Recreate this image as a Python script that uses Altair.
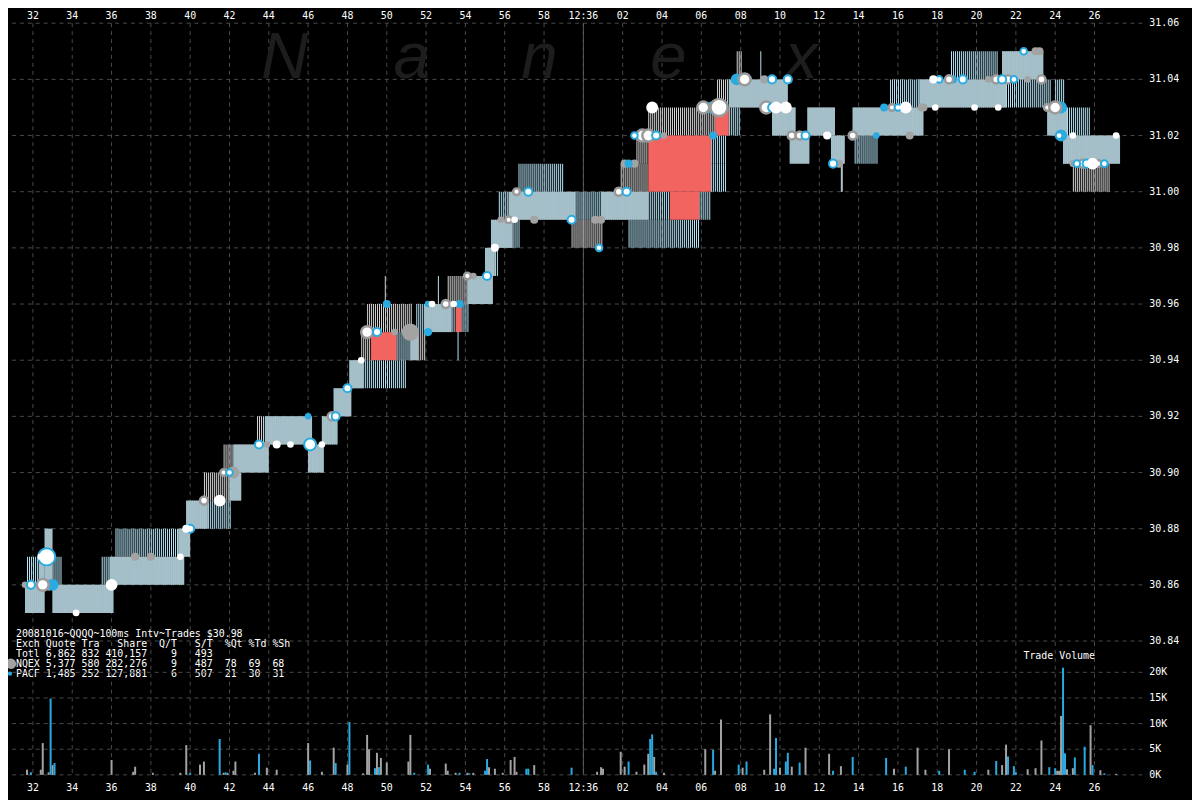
import altair as alt
import pandas as pd

# ---------------- data (seconds after 12:35:00, prices in $) ----------------
second_ticks = list(range(32, 88, 2))
price_ticks = [30.84, 30.86, 30.88, 30.90, 30.92, 30.94, 30.96, 30.98, 31.00, 31.02, 31.04, 31.06]
volume_ticks = [0, 5000, 10000, 15000, 20000]
volume_tick_labels = ["0K", "5K", "10K", "15K", "20K"]

# quote bands: (start s, end s, low $, high $)
solid_bands = [
    (31.6, 32.6, 30.85, 30.86), (32.3, 32.6, 30.86, 30.87), (32.6, 33.0, 30.86, 30.88),
    (33.0, 36.1, 30.85, 30.86), (35.9, 39.7, 30.86, 30.87), (39.4, 40.0, 30.87, 30.88),
    (39.8, 40.9, 30.88, 30.89), (42.0, 42.6, 30.89, 30.90), (42.2, 44.0, 30.90, 30.91),
    (43.8, 46.2, 30.91, 30.92), (46.0, 46.8, 30.90, 30.91), (46.7, 47.5, 30.91, 30.92),
    (47.3, 48.2, 30.92, 30.93), (48.1, 48.8, 30.93, 30.94), (51.2, 51.6, 30.94, 30.95),
    (51.9, 53.3, 30.95, 30.96), (54.1, 55.4, 30.96, 30.97), (55.0, 55.5, 30.97, 30.98),
    (55.3, 56.4, 30.98, 30.99), (56.2, 59.6, 30.99, 31.00), (60.9, 63.3, 30.99, 31.00),
    (67.4, 70.4, 31.03, 31.04), (69.6, 70.8, 31.02, 31.03), (70.5, 71.5, 31.01, 31.02),
    (71.4, 72.8, 31.02, 31.03), (72.6, 73.3, 31.01, 31.02), (73.1, 73.2, 31.00, 31.01),
    (73.7, 77.3, 31.02, 31.03), (77.1, 81.5, 31.03, 31.04), (81.3, 83.4, 31.04, 31.05),
    (83.6, 84.6, 31.02, 31.03), (84.4, 87.3, 31.01, 31.02),
]
gray_hatch_bands = [
    (40.7, 42.0, 30.89, 30.90), (41.7, 42.2, 30.90, 30.91), (43.4, 43.8, 30.91, 30.92),
    (48.7, 49.2, 30.94, 30.95), (51.6, 52.0, 30.94, 30.95), (49.0, 51.3, 30.95, 30.96),
    (49.9, 50.0, 30.96, 30.97), (53.1, 54.1, 30.96, 30.97), (59.4, 61.0, 30.98, 30.99),
    (61.9, 63.3, 31.00, 31.01), (62.7, 63.3, 31.01, 31.02), (63.3, 66.7, 31.02, 31.03),
    (66.8, 67.4, 31.03, 31.04), (67.8, 68.1, 31.04, 31.05), (84.9, 86.8, 31.00, 31.01),
]
blue_hatch_bands = [
    (31.7, 32.3, 30.86, 30.87), (33.0, 33.5, 30.86, 30.87), (35.5, 35.9, 30.86, 30.87),
    (36.2, 39.4, 30.87, 30.88), (40.9, 42.1, 30.88, 30.89), (48.8, 51.0, 30.93, 30.94),
    (50.5, 51.2, 30.94, 30.95), (51.5, 51.9, 30.95, 30.96), (53.3, 53.5, 30.95, 30.96),
    (53.8, 54.2, 30.95, 30.96), (53.6, 53.7, 30.94, 30.95), (52.6, 52.7, 30.96, 30.97),
    (55.5, 55.7, 30.97, 30.98), (56.4, 56.8, 30.98, 30.99), (55.7, 56.2, 30.99, 31.00),
    (56.7, 59.0, 31.00, 31.01), (59.6, 60.9, 30.99, 31.00), (62.3, 65.9, 30.98, 30.99),
    (63.3, 64.4, 30.99, 31.00), (65.9, 66.5, 30.99, 31.00), (67.4, 68.0, 31.02, 31.03),
    (66.5, 67.3, 31.00, 31.02), (69.0, 69.1, 31.04, 31.05), (73.8, 75.0, 31.01, 31.02),
    (75.6, 77.3, 31.03, 31.04), (78.7, 81.1, 31.04, 31.05), (81.5, 83.8, 31.03, 31.04),
    (84.0, 84.5, 31.03, 31.04), (84.6, 85.8, 31.02, 31.03),
]
crossed_bands = [
    (49.2, 50.5, 30.94, 30.95), (53.5, 53.8, 30.95, 30.96), (64.4, 65.9, 30.99, 31.00),
    (63.3, 66.5, 31.00, 31.02), (66.7, 67.4, 31.02, 31.03),
]

# trades: (time s, price $, shares)
trades_nqex = [
    (31.6, 30.86, 100), (32.8, 30.86, 2000), (37.2, 30.87, 500), (38.0, 30.87, 500),
    (42.2, 30.90, 2000), (43.9, 30.91, 100), (50.4, 30.95, 100), (51.2, 30.95, 5000),
    (54.4, 30.97, 100), (55.8, 30.99, 100), (57.5, 30.99, 500), (60.6, 30.99, 500),
    (60.9, 30.99, 500), (62.1, 31.01, 500), (62.6, 31.01, 500), (64.1, 31.02, 100),
    (68.4, 31.04, 100), (69.2, 31.04, 500), (70.8, 31.02, 100), (73.0, 31.01, 500),
    (76.6, 31.02, 500), (77.2, 31.03, 500), (77.3, 31.03, 500), (80.6, 31.04, 100),
    (83.0, 31.05, 500), (83.2, 31.05, 500), (82.6, 31.04, 100), (83.8, 31.03, 500),
    (84.9, 31.01, 100),
]
trades_pacf = [
    (33.0, 30.86, 2000), (46.0, 30.92, 100), (52.1, 30.95, 500), (50.0, 30.96, 500),
    (52.1, 30.96, 100), (53.7, 30.96, 500), (62.3, 31.01, 500), (66.5, 31.03, 2000),
    (66.6, 31.02, 500), (67.8, 31.04, 2000), (74.9, 31.02, 100), (75.3, 31.03, 500),
    (78.8, 31.04, 500), (84.3, 31.03, 2000), (84.3, 31.02, 2000),
]
trades_white = [
    (32.4, 30.87, 100), (34.2, 30.85, 100), (36.0, 30.86, 2000), (39.5, 30.87, 100),
    (39.8, 30.88, 500), (41.5, 30.89, 2000), (44.4, 30.91, 500), (45.1, 30.91, 100),
    (46.7, 30.91, 100), (48.7, 30.94, 100), (52.3, 30.96, 100), (53.4, 30.96, 100),
    (55.5, 30.98, 500), (56.5, 30.99, 100), (63.5, 31.03, 2000), (69.8, 31.03, 2000),
    (70.3, 31.03, 2000), (72.4, 31.02, 500), (76.4, 31.03, 2000), (77.9, 31.03, 100),
    (77.8, 31.04, 500), (79.9, 31.03, 100), (81.1, 31.03, 100), (84.9, 31.02, 100),
    (85.9, 31.01, 2000), (87.1, 31.02, 100),
]
trades_white_pacf = [
    (31.9, 30.86, 500), (32.7, 30.87, 5000), (40.0, 30.88, 500), (42.0, 30.90, 100),
    (43.5, 30.91, 500), (46.1, 30.91, 2000), (47.4, 30.92, 500), (48.0, 30.93, 500),
    (49.5, 30.95, 500), (55.1, 30.97, 500), (59.4, 30.99, 500), (57.2, 31.00, 500),
    (62.2, 31.00, 500), (60.8, 30.98, 100), (62.6, 31.02, 100), (63.7, 31.02, 500),
    (69.6, 31.04, 500), (70.4, 31.04, 500), (69.6, 31.03, 500), (71.3, 31.02, 500),
    (72.7, 31.01, 500), (76.0, 31.03, 100), (78.1, 31.04, 100), (79.3, 31.04, 500),
    (81.3, 31.04, 500), (81.9, 31.04, 100), (82.4, 31.05, 100), (84.2, 31.02, 100),
    (85.1, 31.01, 100), (85.6, 31.01, 500), (86.5, 31.01, 100),
]
trades_white_nqex = [
    (32.5, 30.86, 2000), (40.7, 30.89, 500), (41.7, 30.90, 100), (47.2, 30.92, 500),
    (49.0, 30.95, 2000), (53.0, 30.96, 500), (54.1, 30.97, 100), (56.2, 30.99, 100),
    (56.6, 31.00, 100), (61.8, 31.00, 500), (63.0, 31.02, 2000), (63.3, 31.02, 2000),
    (66.1, 31.03, 2000), (66.9, 31.03, 5000), (68.2, 31.04, 2000), (69.3, 31.03, 2000),
    (70.6, 31.02, 500), (71.0, 31.02, 500), (73.7, 31.02, 500), (75.7, 31.03, 100),
    (78.6, 31.04, 500), (81.0, 31.04, 500), (81.6, 31.04, 500), (83.3, 31.04, 500),
    (83.6, 31.03, 100), (84.0, 31.03, 2000), (85.4, 31.01, 500), (86.2, 31.01, 100),
]

# trade volume per 100ms interval: (time s, shares)
volume_nqex = [
    (31.7, 1000), (32.4, 1000), (32.5, 6200), (32.8, 500), (33.0, 1900), (36.0, 2900),
    (37.1, 600), (37.2, 1600), (38.1, 400), (39.5, 400), (39.8, 5800), (40.5, 2000),
    (40.7, 2600), (41.7, 400), (41.9, 400), (42.2, 800), (42.3, 2600), (43.3, 400),
    (43.9, 1400), (44.4, 1000), (46.0, 6200), (46.7, 600), (47.3, 5300), (48.0, 2000),
    (48.8, 300), (49.0, 7800), (49.1, 5000), (49.5, 4300), (49.7, 3300), (50.0, 2400),
    (51.1, 2600), (51.2, 7800), (52.2, 1200), (53.0, 2200), (53.1, 800), (53.5, 400),
    (54.1, 400), (54.4, 400), (55.2, 1500), (55.5, 1200), (55.9, 400), (56.3, 2900),
    (56.5, 3500), (56.6, 600), (57.5, 1900), (60.7, 600), (60.9, 1500), (61.0, 1200),
    (61.9, 4500), (62.1, 1600), (62.7, 600), (63.1, 2000), (63.3, 4100), (63.6, 3500),
    (64.1, 400), (66.2, 5000), (66.7, 800), (67.0, 10800), (68.1, 1400), (69.2, 1000),
    (69.5, 11800), (70.0, 1400), (70.6, 1600), (71.3, 5300), (72.5, 4100), (73.1, 1700),
    (75.8, 1200), (77.0, 5300), (77.4, 1000), (78.6, 5000), (80.6, 1000), (81.3, 1900),
    (81.5, 5900), (82.6, 1100), (83.0, 1300), (83.3, 6700), (84.1, 800), (84.2, 800),
    (84.3, 11500), (84.6, 1100), (84.9, 1300), (85.8, 9700), (86.3, 900), (87.1, 200),
]
volume_pacf = [
    (31.9, 500), (32.9, 14900), (33.1, 2300), (40.0, 400), (41.5, 7000), (41.8, 500),
    (43.5, 4100), (46.1, 2800), (47.4, 2300), (48.1, 10300), (49.4, 1300), (49.6, 1500),
    (51.4, 400), (52.1, 2000), (53.7, 400), (54.2, 300), (55.0, 800), (55.1, 3100),
    (57.1, 1200), (57.2, 1200), (59.4, 1400), (62.3, 2600), (63.4, 7000), (63.5, 7900),
    (63.7, 600), (66.6, 4900), (67.9, 2000), (68.3, 2600), (69.7, 1200), (69.8, 7200),
    (70.3, 2600), (70.4, 4300), (71.0, 2400), (72.7, 800), (73.7, 3500), (75.4, 3300),
    (76.4, 1600), (78.1, 800), (79.4, 1000), (79.9, 600), (81.0, 2700), (81.6, 3600),
    (81.9, 1700), (82.0, 500), (83.7, 1500), (84.0, 1300), (84.4, 20900), (84.5, 4200),
    (85.0, 3400), (85.5, 5500), (85.9, 1900), (86.5, 300),
]

summary_lines = [
    "20081016~QQQQ~100ms Intv~Trades $30.98",
    "Exch Quote Tra   Share  Q/T   S/T  %Qt %Td %Sh",
    "Totl 6,862 832 410,157    9   493",
    "NQEX 5,377 580 282,276    9   487  78  69  68",
    "PACF 1,485 252 127,881    6   507  21  30  31",
]
watermark_letters = ["N", "a", "n", "e", "x"]

# ---------------- chart ----------------
W, H = 1144, 758
T0, T1 = 30.985, 88.185
P0, P1 = 30.79234, 31.06
V1 = 146600
CENT_PX = H / (P1 - P0) * 0.01
FONT = "DejaVu Sans Mono"
GRID = "#4a4a4a"
GRAY, BLUE, RED = "#a3a3a3", "#29abe2", "#f2645f"

xs = alt.Scale(domain=[T0, T1], nice=False, zero=False)
ys = alt.Scale(domain=[P0, P1], nice=False, zero=False)
vs = alt.Scale(domain=[0, V1], nice=False, zero=False)
label_expr = ("datum.t == 60 ? '12:36' : "
              "((datum.t % 60) < 10 ? '0' : '') + (datum.t % 60)")


def band_df(bands):
    return pd.DataFrame(bands, columns=["t0", "t1", "lo", "hi"])


def cent_rows(bands):
    rows = []
    for t0, t1, lo, hi in bands:
        for i in range(int(round((hi - lo) * 100))):
            rows.append({"t0": t0, "t1": t1, "mid": lo + 0.005 + 0.01 * i})
    return pd.DataFrame(rows)


def striped(bands, color):
    return alt.Chart(cent_rows(bands)).mark_rule(
        color=color, strokeWidth=CENT_PX, strokeDash=[1, 1], strokeCap="butt"
    ).encode(
        x=alt.X("t0:Q", scale=xs, axis=None), x2="t1:Q",
        y=alt.Y("mid:Q", scale=ys, axis=None),
    )


def trade_df(trades):
    return pd.DataFrame(trades, columns=["t", "p", "shares"])


size_enc = alt.Size("shares:Q", scale=alt.Scale(type="linear", domain=[100, 5000],
                                                 range=[45, 300], zero=False), legend=None)


def trade_layer(trades, **mark):
    return alt.Chart(trade_df(trades)).mark_point(shape="circle", opacity=1, **mark).encode(
        x=alt.X("t:Q", scale=xs, axis=None),
        y=alt.Y("p:Q", scale=ys, axis=None),
        size=size_enc,
    )


def nb(s):
    return s.replace(" ", "\u00a0")


# grid and tick labels drawn through the scales
sec_df = pd.DataFrame({"t": second_ticks})
x_grid = alt.Chart(sec_df).mark_rule(color=GRID, strokeDash=[4, 4]).encode(
    x=alt.X("t:Q", scale=xs, axis=None))
x_labels_bottom = alt.Chart(sec_df).transform_calculate(label=label_expr).mark_text(
    font=FONT, fontSize=10, color="white", align="center", baseline="middle").encode(
    x=alt.X("t:Q", scale=xs, axis=None), y=alt.value(H + 13), text="label:N")
x_labels_top = alt.Chart(sec_df).transform_calculate(label=label_expr).mark_text(
    font=FONT, fontSize=10, color="white", align="center", baseline="middle").encode(
    x=alt.X("t:Q", scale=xs, axis=None), y=alt.value(-7), text="label:N")

price_df = pd.DataFrame({"p": price_ticks})
y_grid = alt.Chart(price_df).mark_rule(color=GRID, strokeDash=[4, 4]).encode(
    y=alt.Y("p:Q", scale=ys, axis=None))
y_labels = alt.Chart(price_df).transform_calculate(label="format(datum.p, '.2f')").mark_text(
    font=FONT, fontSize=10, color="white", align="left", baseline="middle").encode(
    y=alt.Y("p:Q", scale=ys, axis=None), x=alt.value(W + 7), text="label:N")

solid_rect = alt.Chart(band_df(solid_bands)).mark_rect(color="#b2b7b9").encode(
    x=alt.X("t0:Q", scale=xs, axis=None), x2="t1:Q",
    y=alt.Y("lo:Q", scale=ys, axis=None), y2="hi:Q",
)
red_rect = alt.Chart(band_df(crossed_bands)).mark_rect(color=RED).encode(
    x=alt.X("t0:Q", scale=xs, axis=None), x2="t1:Q",
    y=alt.Y("lo:Q", scale=ys, axis=None), y2="hi:Q",
)
noon_rule = alt.Chart(pd.DataFrame({"t": [60]})).mark_rule(color="#5c5c5c", strokeWidth=1).encode(
    x=alt.X("t:Q", scale=xs, axis=None)
)

watermark_x = [279, 407, 536, 666, 800]
watermarks = [
    alt.Chart(pd.DataFrame({"s": [ch]})).mark_text(
        font="Liberation Sans", fontStyle="italic", fontSize=66, color="#1d1d1d",
        align="center", baseline="alphabetic",
    ).encode(text="s:N", x=alt.value(px), y=alt.value(55))
    for ch, px in zip(watermark_letters, watermark_x)
]

table_text = alt.Chart(pd.DataFrame({"s": ["\n".join(nb(s) for s in summary_lines)]})).mark_text(
    font=FONT, fontSize=10, color="white", align="left", baseline="top",
    lineBreak="\n", lineHeight=10,
).encode(text="s:N", x=alt.value(8), y=alt.value(611))

legend_gray = alt.Chart(pd.DataFrame({"e": ["NQEX"]})).mark_circle(
    color=GRAY, opacity=1, size=110).encode(x=alt.value(3), y=alt.value(646))
legend_blue = alt.Chart(pd.DataFrame({"e": ["PACF"]})).mark_circle(
    color=BLUE, opacity=1, size=18).encode(x=alt.value(2), y=alt.value(656))

price_layer = alt.layer(
    x_grid,
    y_grid,
    noon_rule,
    striped(gray_hatch_bands, "#d6d6d6"),
    striped(blue_hatch_bands, "#b4e4f6"),
    solid_rect,
    striped(solid_bands, "#97c7d8"),
    red_rect,
    *watermarks,
    trade_layer(trades_nqex, filled=True, color=GRAY),
    trade_layer(trades_pacf, filled=True, color=BLUE),
    trade_layer(trades_white_nqex, filled=True, fill="white", stroke="#9a9a9a", strokeWidth=2.5),
    trade_layer(trades_white_pacf, filled=True, fill="white", stroke=BLUE, strokeWidth=2),
    trade_layer(trades_white, filled=True, color="white"),
    x_labels_bottom,
    x_labels_top,
    y_labels,
    table_text,
    legend_gray,
    legend_blue,
)

vol_ticks_df = pd.DataFrame({"v": volume_ticks, "label": volume_tick_labels})
vol_grid = alt.Chart(vol_ticks_df).mark_rule(color=GRID, strokeDash=[4, 4]).encode(
    y=alt.Y("v:Q", scale=vs, axis=None))
vol_labels = alt.Chart(vol_ticks_df).mark_text(
    font=FONT, fontSize=10, color="white", align="left", baseline="middle").encode(
    y=alt.Y("v:Q", scale=vs, axis=None), x=alt.value(W + 7), text="label:N")
vol_title = alt.Chart(pd.DataFrame({"s": ["Trade Volume"]})).mark_text(
    font=FONT, fontSize=10, color="white", align="left", baseline="middle").encode(
    text="s:N", x=alt.value(1024), y=alt.value(638))


def vol_bars(rows, color):
    return alt.Chart(pd.DataFrame(rows, columns=["t", "v"])).mark_bar(size=2, color=color).encode(
        x=alt.X("t:Q", scale=xs, axis=None),
        y=alt.Y("v:Q", scale=vs, axis=None),
    )


vol_layer = alt.layer(vol_grid, vol_bars(volume_nqex, GRAY), vol_bars(volume_pacf, BLUE),
                      vol_labels, vol_title)

chart = alt.layer(price_layer, vol_layer).resolve_scale(y="independent").properties(
    width=W, height=H,
    padding={"left": 0, "top": 12, "right": 50, "bottom": 22},
    autosize=alt.AutoSizeParams(type="none"),
).configure(background="black").configure_view(stroke=None)

chart.save("out.html", embed_options={"renderer": "svg", "actions": False})
